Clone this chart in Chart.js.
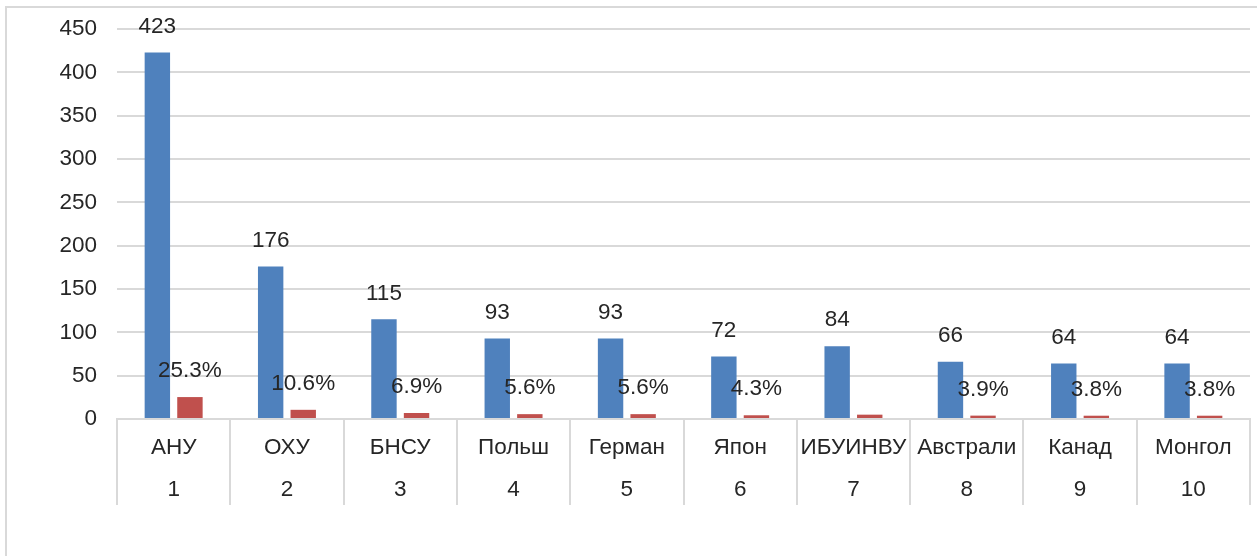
<!DOCTYPE html>
<html>
<head>
<meta charset="utf-8">
<script src="https://cdn.jsdelivr.net/npm/chart.js@4/dist/chart.umd.min.js"></script>
<style>
  html, body { margin: 0; padding: 0; background: #fff; }
  #wrap { position: relative; width: 1257px; height: 556px; overflow: hidden; }
  #frame {
    position: absolute; left: 5px; top: 6px; width: 1300px; height: 600px;
    border-top: 2px solid #d9d9d9; border-left: 2px solid #d9d9d9;
  }
  #chart { position: absolute; left: 0; top: 0; }
</style>
</head>
<body>
<div id="wrap">
  <div id="frame"></div>
  <canvas id="chart" width="1257" height="556"></canvas>
</div>
<script>
// Сургууль / улс, дараалал
const names = ['АНУ', 'ОХУ', 'БНСУ', 'Польш', 'Герман', 'Япон', 'ИБУИНВУ', 'Австрали', 'Канад', 'Монгол'];
const ranks = ['1', '2', '3', '4', '5', '6', '7', '8', '9', '10'];

// тоо ба эзлэх хувь
const counts = [423, 176, 115, 93, 93, 72, 84, 66, 64, 64];
const shares = [25.3, 10.6, 6.9, 5.6, 5.6, 4.3, 5.0, 3.9, 3.8, 3.8];
const hiddenShareLabels = [6];

const yTicks = { min: 0, max: 450, step: 50 };

const textColor = '#262626';
const gridColor = '#d9d9d9';
const fontFamily = '"Liberation Sans", Arial, sans-serif';
const fontSize = 22.5;

// bar value labels drawn above each bar
const valueLabels = {
  id: 'valueLabels',
  afterDatasetsDraw(chart) {
    const ctx = chart.ctx;
    ctx.save();
    ctx.font = fontSize + 'px ' + fontFamily;
    ctx.fillStyle = textColor;
    ctx.textAlign = 'center';
    ctx.textBaseline = 'middle';
    chart.data.datasets.forEach((ds, di) => {
      const meta = chart.getDatasetMeta(di);
      meta.data.forEach((bar, i) => {
        if (di === 1 && hiddenShareLabels.includes(i)) return;
        const v = ds.data[i];
        const txt = di === 0 ? String(v) : v.toFixed(1) + '%';
        ctx.fillText(txt, bar.x, bar.y - 26);
      });
    });
    ctx.restore();
  }
};

// vertical separators between categories, below the axis
const categoryDividers = {
  id: 'categoryDividers',
  afterDraw(chart) {
    const x = chart.scales.x;
    const area = chart.chartArea;
    const ctx = chart.ctx;
    const n = x.ticks.length;
    const half = (x.getPixelForTick(1) - x.getPixelForTick(0)) / 2;
    ctx.save();
    ctx.strokeStyle = gridColor;
    ctx.lineWidth = 2;
    for (let i = 0; i <= n; i++) {
      const px = Math.round(x.getPixelForTick(Math.min(i, n - 1)) + (i < n ? -half : half));
      ctx.beginPath();
      ctx.moveTo(px, area.bottom);
      ctx.lineTo(px, area.bottom + 86);
      ctx.stroke();
    }
    ctx.restore();
  }
};

const ctx = document.getElementById('chart').getContext('2d');
new Chart(ctx, {
  type: 'bar',
  data: {
    labels: names.map((n, i) => [n, ranks[i]]),
    datasets: [{
      label: 'Тоо',
      data: counts,
      backgroundColor: '#4f81bd',
      categoryPercentage: 0.575,
      barPercentage: 0.78
    }, {
      label: 'Хувь',
      data: shares,
      backgroundColor: '#c0504d',
      categoryPercentage: 0.575,
      barPercentage: 0.78
    }]
  },
  options: {
    responsive: false,
    animation: false,
    devicePixelRatio: 1,
    layout: { padding: { left: 0, right: 7, top: 29, bottom: 0 } },
    plugins: {
      legend: { display: false },
      tooltip: { enabled: false }
    },
    scales: {
      x: {
        grid: { display: false, drawTicks: false },
        border: { display: true, color: gridColor, width: 2 },
        ticks: {
          color: textColor,
          padding: 8,
          maxRotation: 0,
          autoSkip: false,
          font: { family: fontFamily, size: fontSize, lineHeight: 42 / fontSize }
        },
        afterFit(scale) {
          scale.height = 137;
          scale.paddingTop = 0;
          scale.paddingBottom = 0;
        }
      },
      y: {
        min: yTicks.min,
        max: yTicks.max,
        grid: { color: gridColor, lineWidth: 2, drawTicks: false },
        border: { display: false },
        ticks: {
          stepSize: yTicks.step,
          color: textColor,
          padding: 20,
          font: { family: fontFamily, size: fontSize }
        },
        afterFit(scale) {
          scale.width = 117;
          scale.paddingTop = 0;
          scale.paddingBottom = 0;
        }
      }
    }
  },
  plugins: [valueLabels, categoryDividers]
});
</script>
</body>
</html>
